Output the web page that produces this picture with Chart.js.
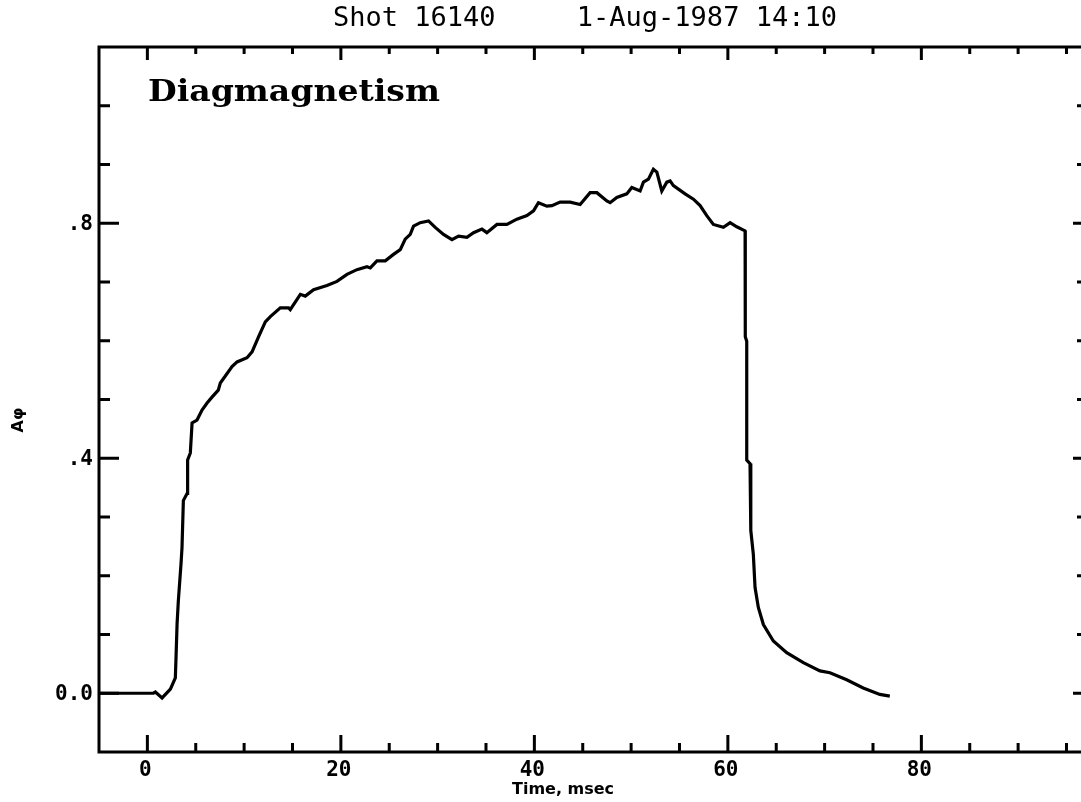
<!doctype html>
<html lang="en">
  <head>
    <meta charset="utf-8">
    <title>Shot 16140 - Diagmagnetism</title>
    <script src="https://cdn.jsdelivr.net/npm/chart.js"></script>
    <style>
      html, body { margin: 0; padding: 0; background: #fff; overflow: hidden; }
      #wrap { width: 1081px; height: 802px; position: relative; }
    </style>
  </head>
  <body>
  <div id="wrap">
    <canvas id="myChart" width="1081" height="802"></canvas>
  </div>
  <script>
    // diamagnetic signal, shot 16140
    const timeMs = [-5, 0, 0.62, 0.83, 1.52, 2.38, 2.89, 2.96, 3.07, 3.2, 3.48, 3.58, 3.72, 4.1, 4.16, 4.44, 4.62,
      5.13, 5.65, 6.17, 6.68, 7.33, 7.54, 8.75, 9.27, 10.3, 10.82, 11.5, 12.19, 12.71, 13.74, 14.6, 14.77,
      15.81, 16.32, 17.18, 18.56, 19.6, 20.63, 21.66, 22.7, 23.04, 23.73, 24.59, 25.44, 26.14, 26.65, 27.17,
      27.51, 28.2, 29.06, 29.75, 30.61, 31.48, 32.16, 33.03, 33.71, 34.58, 35.09, 36.13, 37.16, 38.19, 39.23,
      39.91, 40.42, 41.29, 41.81, 42.66, 43.7, 44.73, 45.76, 46.46, 47.49, 47.83, 48.52, 49.55, 50.07, 50.93,
      51.27, 51.79, 52.3, 52.66, 53.17, 53.69, 54.03, 54.37, 55.58, 56.44, 57.13, 57.82, 58.5, 59.54, 60.23,
      60.92, 61.78, 61.8, 61.95, 61.95, 62.29, 62.37, 62.63, 62.81, 63.15, 63.67, 64.7, 66.08, 67.8, 69.52,
      70.55, 72.28, 73.99, 75.71, 76.74];
    const aPhi = [0, 0, 0, 0.002, -0.008, 0.007, 0.026, 0.06, 0.118, 0.157, 0.221, 0.248, 0.328, 0.34, 0.397, 0.409, 0.46,
      0.465, 0.482, 0.494, 0.504, 0.516, 0.528, 0.556, 0.564, 0.571, 0.581, 0.607, 0.632, 0.641, 0.656, 0.656, 0.653,
      0.679, 0.676, 0.687, 0.694, 0.701, 0.713, 0.721, 0.726, 0.724, 0.736, 0.736, 0.747, 0.755, 0.773, 0.781,
      0.795, 0.801, 0.804, 0.793, 0.781, 0.772, 0.778, 0.776, 0.784, 0.79, 0.784, 0.798, 0.798, 0.807, 0.813,
      0.821, 0.835, 0.829, 0.83, 0.836, 0.836, 0.832, 0.852, 0.852, 0.838, 0.835, 0.844, 0.85, 0.861, 0.855,
      0.87, 0.875, 0.892, 0.887, 0.855, 0.87, 0.872, 0.864, 0.85, 0.841, 0.83, 0.813, 0.798, 0.793, 0.801,
      0.794, 0.787, 0.607, 0.599, 0.397, 0.391, 0.277, 0.237, 0.18, 0.146, 0.117, 0.089, 0.069, 0.052, 0.038,
      0.035, 0.023, 0.009, -0.002, -0.005];

    const xMajorTicks = [0, 20, 40, 60, 80];
    const xMinorTicks = [5, 10, 15, 25, 30, 35, 45, 50, 55, 65, 70, 75, 85, 90, 95];
    const yMajorTicks = [0, 0.4, 0.8];
    const yMajorLabels = ['0.0', '.4', '.8'];
    const yMinorTicks = [0.1, 0.2, 0.3, 0.5, 0.6, 0.7, 0.9, 1.0];

    const points = timeMs.map((t, i) => ({x: t, y: aPhi[i]}));

    // frame, ticks and lettering drawn in the old plotter style
    const framePlugin = {
        id: 'plotterFrame',
        afterDraw: (chart) => {
            const ctx = chart.ctx;
            const xs = chart.scales.x;
            const ys = chart.scales.y;
            const {left, right, top, bottom} = chart.chartArea;
            ctx.save();
            ctx.strokeStyle = '#000';
            ctx.fillStyle = '#000';
            ctx.lineCap = 'butt';

            // frame
            ctx.lineWidth = 3;
            ctx.beginPath();
            ctx.moveTo(right + 2, top);
            ctx.lineTo(left, top);
            ctx.lineTo(left, bottom);
            ctx.lineTo(right + 2, bottom);
            ctx.stroke();

            // x ticks, bottom and top
            ctx.lineWidth = 3;
            ctx.beginPath();
            xMajorTicks.forEach(v => {
                const px = xs.getPixelForValue(v);
                ctx.moveTo(px, bottom); ctx.lineTo(px, bottom - 17);
                ctx.moveTo(px, top); ctx.lineTo(px, top + 13);
            });
            xMinorTicks.forEach(v => {
                const px = xs.getPixelForValue(v);
                ctx.moveTo(px, bottom); ctx.lineTo(px, bottom - 9);
                ctx.moveTo(px, top); ctx.lineTo(px, top + 7);
            });
            // y ticks, left and right
            yMajorTicks.forEach(v => {
                const py = ys.getPixelForValue(v);
                ctx.moveTo(left, py); ctx.lineTo(left + 20, py);
                ctx.moveTo(right, py); ctx.lineTo(right - 8, py);
            });
            yMinorTicks.forEach(v => {
                const py = ys.getPixelForValue(v);
                ctx.moveTo(left, py); ctx.lineTo(left + 11, py);
                ctx.moveTo(right, py); ctx.lineTo(right - 4, py);
            });
            ctx.stroke();

            // tick labels
            ctx.font = 'bold 21px "DejaVu Sans Mono"';
            ctx.textAlign = 'right';
            ctx.textBaseline = 'middle';
            yMajorTicks.forEach((v, i) => {
                ctx.fillText(yMajorLabels[i], left - 6, ys.getPixelForValue(v) + 1);
            });
            ctx.textAlign = 'center';
            ctx.textBaseline = 'top';
            xMajorTicks.forEach(v => {
                ctx.fillText(String(v), xs.getPixelForValue(v) - 2, bottom + 8);
            });

            // axis titles
            ctx.font = 'bold 16px "DejaVu Sans"';
            ctx.textAlign = 'left';
            ctx.textBaseline = 'top';
            ctx.fillText('Time, msec', 512, bottom + 30);
            ctx.save();
            ctx.translate(19, 420);
            ctx.rotate(-Math.PI / 2);
            ctx.textAlign = 'center';
            ctx.textBaseline = 'middle';
            ctx.fillText('A\u03c6', 0, 0);
            ctx.restore();

            // header
            ctx.font = '27px "DejaVu Sans Mono"';
            ctx.textAlign = 'left';
            ctx.textBaseline = 'alphabetic';
            ctx.fillText('Shot 16140     1-Aug-1987 14:10', 333, 26);

            // panel label
            ctx.font = 'bold 30px "DejaVu Serif"';
            const label = 'Diagmagnetism';
            const w = ctx.measureText(label).width;
            ctx.save();
            ctx.translate(148, 101);
            ctx.scale(292 / w, 1);
            ctx.fillText(label, 0, 0);
            ctx.restore();

            ctx.restore();
        }
    };

    const myChart = new Chart(document.getElementById('myChart'), {
        type: 'line',
        data: {
            datasets: [{
                label: 'A\u03c6',
                data: points,
                borderColor: '#000',
                borderWidth: 3.2,
                pointRadius: 0,
                tension: 0,
                fill: false
            }]
        },
        plugins: [framePlugin],
        options: {
            responsive: false,
            animation: false,
            layout: {
                padding: {left: 99, top: 47, right: 0, bottom: 50}
            },
            plugins: {
                legend: {display: false},
                tooltip: {enabled: false}
            },
            scales: {
                x: {
                    type: 'linear',
                    min: -5,
                    max: 96.5,
                    display: false
                },
                y: {
                    min: -0.1,
                    max: 1.1,
                    display: false
                }
            }
        }
    });
  </script>
  </body>
</html>
